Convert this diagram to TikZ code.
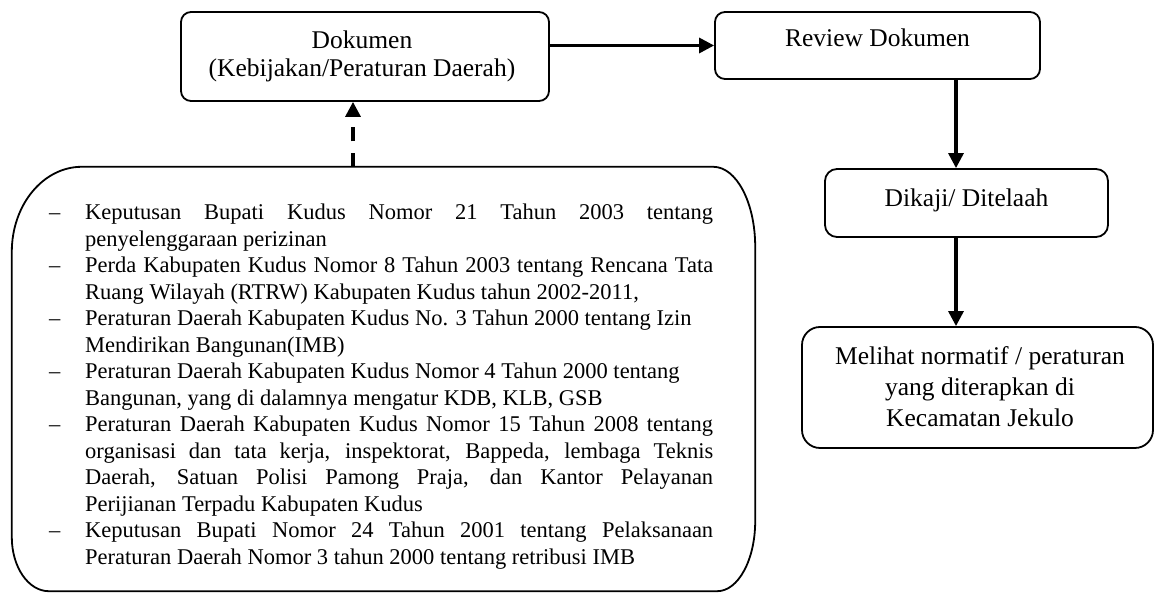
\documentclass[tikz,border=0pt]{standalone}
\usepackage{fontspec}
\setmainfont{Liberation Serif}
\usetikzlibrary{arrows.meta,calc}
\newcommand{\J}[1]{\makebox[628pt][s]{#1}}
\begin{document}
\begin{tikzpicture}[x=1pt,y=1pt,
  bx/.style={draw,line width=1.8pt,inner sep=0pt},
  bigfont/.style={font=\fontsize{25.5}{28}\selectfont},
  arr/.style={line width=3.2pt,-{Triangle[length=15pt,width=15pt]}},
  darr/.style={arr,dash pattern=on 14pt off 11.5pt}]
\useasboundingbox (0,0) rectangle (1154,593);
% boxes
\node[bx,rounded corners=10pt,minimum width=368pt,minimum height=89pt] (dok) at (365,536.5) {};
\node[bigfont,anchor=base,align=center] (doktxt) at (362,516) {Dokumen\\(Kebijakan/Peraturan Daerah)};
\node[bx,rounded corners=10pt,minimum width=325pt,minimum height=67pt] (rev) at (877.5,547.5) {};
\node[bigfont,anchor=base] (revtxt) at (877.5,546) {Review Dokumen};
\node[bx,rounded corners=12pt,minimum width=283pt,minimum height=68pt] (dik) at (966.5,390) {};
\node[bigfont,anchor=base] (diktxt) at (966.5,386) {Dikaji/ Ditelaah};
\node[bx,rounded corners=18pt,minimum width=351pt,minimum height=121pt] (mel) at (977.5,205.5) {};
\node[font=\fontsize{25.5}{31}\selectfont,anchor=base,align=center] (meltxt) at (980,166) {Melihat normatif / peraturan\\yang diterapkan di\\Kecamatan Jekulo};
% big list box
\node[minimum width=743pt,minimum height=424pt,inner sep=0pt] (big) at (383.5,214) {};
\draw[line width=1.8pt]
  ($(big.north west)+(70,0)$) -- ($(big.north east)+(-42,0)$)
  arc[start angle=90,end angle=0,x radius=42,y radius=80]
  -- ($(big.south east)+(0,70)$)
  arc[start angle=0,end angle=-90,x radius=38,y radius=70]
  -- ($(big.south west)+(37,0)$)
  arc[start angle=270,end angle=180,x radius=37,y radius=54]
  -- ($(big.north west)+(0,-85)$)
  arc[start angle=180,end angle=90,x radius=70,y radius=85] -- cycle;
\node[anchor=base west,inner sep=0pt,font=\fontsize{22.5}{26.5}\selectfont] (list) at (49,373) {%
\begin{tabular}[t]{@{}p{36pt}@{}l@{}}
\textendash & \J{Keputusan Bupati Kudus Nomor 21 Tahun 2003 tentang}\\
 & penyelenggaraan perizinan\\
\textendash & \J{Perda Kabupaten Kudus Nomor 8 Tahun 2003 tentang Rencana Tata}\\
 & Ruang Wilayah (RTRW) Kabupaten Kudus tahun 2002-2011,\\
\textendash & Peraturan Daerah Kabupaten Kudus No. 3 Tahun 2000 tentang Izin\\
 & Mendirikan Bangunan(IMB)\\
\textendash & Peraturan Daerah Kabupaten Kudus Nomor 4 Tahun 2000 tentang\\
 & Bangunan, yang di dalamnya mengatur KDB, KLB, GSB\\
\textendash & \J{Peraturan Daerah Kabupaten Kudus Nomor 15 Tahun 2008 tentang}\\
 & \J{organisasi dan tata kerja, inspektorat, Bappeda, lembaga Teknis}\\
 & \J{Daerah, Satuan Polisi Pamong Praja, dan Kantor Pelayanan}\\
 & Perijianan Terpadu Kabupaten Kudus\\
\textendash & \J{Keputusan Bupati Nomor 24 Tahun 2001 tentang Pelaksanaan}\\
 & Peraturan Daerah Nomor 3 tahun 2000 tentang retribusi IMB
\end{tabular}};
% connectors
\coordinate (ax) at (956,0);
\coordinate (dx) at (353,0);
\draw[arr] (dok.east |- rev.west) -- (rev.west);
\draw[arr] (rev.south -| ax) -- (dik.north -| ax);
\draw[arr] (dik.south -| ax) -- (mel.north -| ax);
\draw[darr] (big.north -| dx) -- (dok.south -| dx);
\end{tikzpicture}
\end{document}
